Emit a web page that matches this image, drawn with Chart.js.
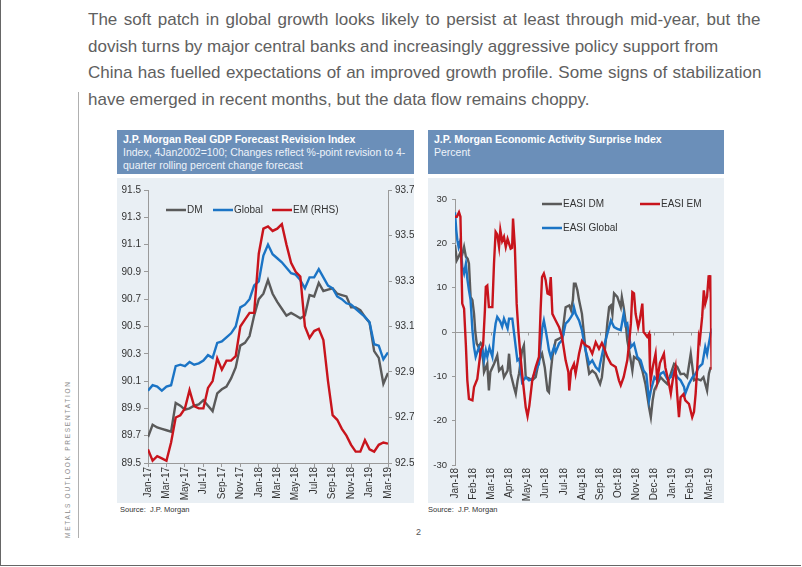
<!DOCTYPE html>
<html>
<head>
<meta charset="utf-8">
<script src="https://cdn.jsdelivr.net/npm/chart.js@4.4.1/dist/chart.umd.min.js"></script>
<style>
  html, body { margin:0; padding:0; background:#fff; }
  body { width:802px; height:567px; position:relative; overflow:hidden; font-family:"Liberation Sans", Arial, sans-serif; }
  .frame { position:absolute; left:0; top:0; width:801px; height:566px; border-left:1px solid #666; border-bottom:1px solid #666; box-sizing:border-box; }
  .intro { position:absolute; left:88px; color:#606060; font-size:17px; white-space:nowrap; line-height:20px; }
  .vline { position:absolute; left:78px; top:92px; width:1px; height:446px; background:#b0b0b0; }
  .vtext { position:absolute; left:68px; top:538px; transform-origin:0 0; transform:rotate(-90deg); font-size:6.5px; letter-spacing:1.75px; color:#8a8a8a; white-space:nowrap; line-height:7px; margin-left:-4px; }
  .hdr { position:absolute; top:130px; height:44px; background:#6b8fb9; color:#fff; box-sizing:border-box; padding:3px 0 0 6px; }
  .hdr .t { font-weight:bold; font-size:10.5px; line-height:13px; white-space:nowrap; }
  .hdr .s { font-size:10.5px; line-height:12.5px; color:#eef3f9; white-space:nowrap; }
  .bg { position:absolute; top:178px; height:325px; background:#e9eff4; }
  canvas { position:absolute; top:178px; }
  .src { position:absolute; top:505px; font-size:7.5px; color:#333; white-space:pre; }
  .pg { position:absolute; left:416px; top:527px; font-size:9px; color:#555; }
</style>
</head>
<body>
<div class="frame"></div>
<div class="intro" style="top:10px;word-spacing:1.8px">The soft patch in global growth looks likely to persist at least through mid-year, but the</div>
<div class="intro" style="top:37px">dovish turns by major central banks and increasingly aggressive policy support from</div>
<div class="intro" style="top:63px;word-spacing:0.6px">China has fuelled expectations of an improved growth profile. Some signs of stabilization</div>
<div class="intro" style="top:90px">have emerged in recent months, but the data flow remains choppy.</div>
<div class="vline"></div>
<div class="vtext">METALS OUTLOOK PRESENTATION</div>

<div class="hdr" style="left:117px;width:297px">
  <div class="t">J.P. Morgan Real GDP Forecast Revision Index</div>
  <div class="s">Index, 4Jan2002=100; Changes reflect %-point revision to 4-</div>
  <div class="s">quarter rolling percent change forecast</div>
</div>
<div class="hdr" style="left:428px;width:296px">
  <div class="t">J.P. Morgan Economic Activity Surprise Index</div>
  <div class="s">Percent</div>
</div>
<div class="bg" style="left:117px;width:297px"></div>
<div class="bg" style="left:428px;width:296px"></div>
<canvas id="c1" width="297" height="325" style="left:117px"></canvas>
<canvas id="c2" width="296" height="325" style="left:428px"></canvas>
<div class="src" style="left:120px">Source:  J.P. Morgan</div>
<div class="src" style="left:428px">Source:  J.P. Morgan</div>
<div class="pg">2</div>

<script>
// ---------- Left chart: Real GDP Forecast Revision Index (x = months since Jan-17) ----------
const gdpMonths = [0,0.5,1,1.5,2,2.5,3,3.5,4,4.5,5,5.5,6,6.5,7,7.5,8,8.5,9,9.5,10,10.5,11,11.5,12,12.5,13,13.5,14,14.5,15,15.5,16,16.5,17,17.5,18,18.5,19,19.5,20,20.5,21,21.5,22,22.5,23,23.5,24,24.5,25,25.5,26];
const gdpDM = [89.69,89.78,89.76,89.75,89.74,89.73,89.94,89.92,89.89,89.90,89.92,89.93,89.96,89.92,89.88,90.01,90.04,90.06,90.12,90.20,90.36,90.38,90.43,90.58,90.70,90.74,90.84,90.74,90.68,90.63,90.58,90.60,90.58,90.56,90.58,90.73,90.72,90.82,90.76,90.77,90.78,90.74,90.73,90.72,90.64,90.64,90.62,90.57,90.53,90.32,90.27,90.08,90.16];
const gdpGlobal = [90.03,90.07,90.06,90.03,90.06,90.07,90.21,90.22,90.21,90.24,90.22,90.23,90.25,90.29,90.27,90.38,90.39,90.42,90.45,90.50,90.64,90.66,90.70,90.80,90.83,91.02,91.10,91.03,91.00,90.97,90.93,90.89,90.88,90.84,90.78,90.86,90.86,90.92,90.86,90.80,90.78,90.72,90.70,90.67,90.66,90.63,90.60,90.57,90.53,90.37,90.36,90.26,90.31];
const gdpEM = [92.56,92.51,92.53,92.52,92.51,92.59,92.70,92.71,92.74,92.82,92.75,92.74,92.74,92.83,92.86,92.96,92.91,92.95,92.95,92.97,93.10,93.13,93.16,93.16,93.42,93.53,93.54,93.52,93.53,93.55,93.46,93.38,93.34,93.32,93.10,93.05,93.08,93.09,93.04,92.86,92.71,92.69,92.65,92.62,92.58,92.55,92.55,92.60,92.56,92.55,92.58,92.59,92.585];
const gdpTickLabels = ['Jan-17','Mar-17','May-17','Jul-17','Sep-17','Nov-17','Jan-18','Mar-18','May-18','Jul-18','Sep-18','Nov-18','Jan-19','Mar-19'];

// ---------- Right chart: Economic Activity Surprise Index (x = months since Jan-18) ----------
const easiDMx = [0,0.1,0.2,0.3,0.4,0.5,0.6,0.7,0.77,0.86,0.96,1.05,1.12,1.2,1.3,1.42,1.5,1.6,1.7,1.78,1.87,1.95,2.15,2.33,2.43,2.6,2.7,2.9,2.98,3.07,3.25,3.35,3.45,3.53,3.7,3.8,3.9,4.1,4.26,4.45,4.63,4.8,4.95,5.1,5.18,5.28,5.37,5.55,5.74,5.9,6.1,6.3,6.4,6.5,6.56,6.65,6.75,6.84,7.0,7.1,7.2,7.4,7.57,7.76,8.0,8.1,8.2,8.3,8.4,8.5,8.6,8.68,8.77,8.95,9.14,9.2,9.3,9.4,9.5,9.6,9.78,9.87,10.15,10.33,10.5,10.7,10.8,10.9,11.0,11.16,11.34,11.5,11.7,11.85,12.08,12.26,12.44,12.63,12.8,13.0,13.18,13.36,13.55,13.7,13.9,14.0,14.1];
const easiDM = [19.6,16.2,17,18,17.5,19.2,17,16.5,15.4,7.9,7.2,4.1,0,-2.6,-3.4,-2.5,-3,-9,-8,-7.2,-13.2,-9,-7.2,-5.3,-8.7,-7.9,-10.2,-8.7,-4.9,-9.4,-12.4,-13.9,-11,-9.4,-4.1,-3,-10.2,-10.5,-10.9,-10.2,-6.4,-4.9,-8,-13.2,-13.6,-9,-5.6,-1.9,-1.5,-1.1,5.6,6,4.9,7.2,10.9,10.9,9.4,7.2,4.1,0,-4.1,-9.4,-8.7,-9.4,-11.7,-10.2,-6.4,-2.6,2,5.6,6,4,8.7,7.9,5.6,7.9,5.6,2.6,-1.9,-4.1,-8.7,-5.6,-6.4,-8.7,-11.7,-17,-19.2,-15.4,-13,-11.7,-10.2,-10.9,-11.7,-10,-7.2,-7.9,-9.5,-9.4,-10.2,-4.9,-10.9,-10.6,-10.9,-10.2,-13.2,-9.4,-7.9];
const easiEMx = [0,0.1,0.22,0.3,0.4,0.5,0.6,0.68,0.77,0.96,1.05,1.23,1.42,1.55,1.65,1.7,1.78,1.87,2.06,2.15,2.24,2.33,2.43,2.5,2.6,2.7,2.8,2.9,3.07,3.15,3.2,3.3,3.4,3.5,3.6,3.7,3.9,4.0,4.1,4.26,4.45,4.63,4.72,4.8,4.9,5.0,5.1,5.2,5.28,5.37,5.55,5.74,5.9,6.1,6.25,6.3,6.4,6.56,6.65,6.84,7.0,7.2,7.4,7.57,7.76,7.94,8.1,8.2,8.4,8.6,8.86,9.04,9.14,9.3,9.5,9.6,9.7,9.78,9.87,9.96,10.1,10.2,10.33,10.4,10.5,10.6,10.7,10.75,10.79,10.9,11.06,11.15,11.3,11.52,11.6,11.8,11.9,12.0,12.16,12.25,12.35,12.44,12.6,12.7,12.9,13.08,13.18,13.27,13.36,13.45,13.5,13.63,13.72,13.8,13.9,13.99,14.04,14.09,14.15];
const easiEM = [26,26,27,26,6.4,5.3,-3,-10.9,-15.1,-15.4,-12.4,-10.6,-4.1,-3,5,10.2,10.5,5.6,5.6,15.4,22.6,22,19.2,23,20.5,21.5,19.2,21,18.8,19,25.6,19.2,6.4,0,-5,-9.4,-17,-19,-16.6,-10.9,-7.9,-5.6,4.9,12.4,13.2,11.7,8.7,8.5,12.4,4.1,2.6,1.1,-1.1,-6.4,-9,-13.2,-8.7,-7.2,-9.4,-4.9,-2,-3,-3.4,-4.9,-2.3,-3.8,-2.5,-3.4,-5.6,-7.2,-7.9,-10.9,-12,-10.2,-6.4,-2.6,2,9.0,8.7,4.1,1.1,3,6.4,0,-0.5,-1.1,-0.4,-8,-10.9,-8,-4.9,-10.9,-7,-4.9,-8,-11.7,-13.9,-11,-7.9,-13.9,-19.2,-14.7,-14,-15.4,-16.2,-19.2,-18,-13.9,-7.9,-1.1,-1.9,3.4,9.4,6.4,8,12.8,11,12.8,-8.5];
const easiGlobalx = [0,0.07,0.13,0.2,0.3,0.4,0.5,0.6,0.68,0.77,0.86,0.96,1.05,1.14,1.23,1.32,1.42,1.5,1.6,1.7,1.78,1.9,2.06,2.15,2.24,2.33,2.43,2.5,2.6,2.7,2.9,2.98,3.16,3.25,3.35,3.44,3.55,3.7,3.9,4.08,4.26,4.45,4.63,4.72,4.82,4.9,5.0,5.1,5.18,5.28,5.46,5.55,5.74,5.9,6.0,6.1,6.25,6.4,6.5,6.56,6.65,6.84,7.0,7.1,7.2,7.4,7.57,7.76,7.94,8.0,8.2,8.3,8.5,8.6,8.77,8.95,9.14,9.3,9.4,9.5,9.6,9.7,9.87,10.05,10.24,10.4,10.55,10.7,10.8,11.0,11.16,11.34,11.5,11.7,11.9,12.08,12.26,12.44,12.63,12.7,12.9,13.1,13.27,13.45,13.64,13.8,13.9,14.0,14.15];
const easiGlobal = [27,23,20.7,19.2,20.7,14.7,13.2,15.4,12,9.4,7.2,0.4,-3.4,-5.6,-4.5,-3.5,-5.3,-3.8,-6.4,-4.1,-5.6,-3.5,-5.6,-1,1.9,3.4,2.8,2.3,1.2,3,0.8,3,3,0,-3.4,-6.4,-6,-11.3,-10.2,-10.9,-10.6,-8.7,-7.2,-3,1.1,2.6,0.4,-2,-4.1,-5.6,-3.4,-4.5,-2.6,-1.9,0,1.9,2.5,3.4,4.1,5.6,4.1,2.6,0.4,-2,-4.1,-7.2,-6.4,-7.9,-8.7,-7.2,-3.4,-1.9,1.1,2.6,1.1,0.7,0.4,4.1,1.5,1.9,-1,-3.4,-2.6,-5.6,-6.4,-8.7,-9.5,-15.4,-13.2,-10.2,-10.9,-9.4,-9,-10.6,-10.2,-8.7,-10.2,-10.9,-12.4,-13.9,-11.7,-10.2,-9.4,-7.9,-7.2,-3.4,-5,-2.6,0.8];
const easiTickLabels = ['Jan-18','Feb-18','Mar-18','Apr-18','May-18','Jun-18','Jul-18','Aug-18','Sep-18','Oct-18','Nov-18','Dec-18','Jan-19','Feb-19','Mar-19'];

const C_DM = '#5a5a5a', C_GLOBAL = '#1b74c5', C_EM = '#c8141c';
const FONT = '"Liberation Sans", Arial, sans-serif';
const AXIS = '#9a9a9a';
const pts = (xs, ys) => xs.map((x, i) => ({x, y: ys[i]}));

// legend plugin: draws dataset legend entries at given canvas positions
const legendPlugin = {
  id: 'posLegend',
  afterDraw(chart, args, opts) {
    const ctx = chart.ctx;
    ctx.save();
    ctx.font = '10px ' + FONT;
    ctx.textBaseline = 'middle';
    opts.items.forEach(it => {
      const ds = chart.data.datasets[it.i];
      ctx.strokeStyle = ds.borderColor;
      ctx.lineWidth = 2.5;
      ctx.beginPath(); ctx.moveTo(it.x, it.y); ctx.lineTo(it.x + 20, it.y); ctx.stroke();
      ctx.fillStyle = '#333';
      ctx.fillText(ds.label, it.x + 21, it.y + 0.5);
    });
    ctx.restore();
  }
};

// zero-line tick marks for the surprise chart
const zeroTicks = {
  id: 'zeroTicks',
  beforeDatasetsDraw(chart) {
    const x = chart.scales.x, y = chart.scales.y, ctx = chart.ctx;
    const y0 = Math.round(y.getPixelForValue(0)) + 0.5;
    ctx.save();
    ctx.strokeStyle = AXIS; ctx.lineWidth = 1;
    x.ticks.forEach(t => {
      const px = Math.round(x.getPixelForValue(t.value)) + 0.5;
      ctx.beginPath(); ctx.moveTo(px, y0); ctx.lineTo(px, y0 + 3); ctx.stroke();
    });
    ctx.restore();
  }
};

new Chart(document.getElementById('c1'), {
  type: 'line',
  data: {
    datasets: [
      { label: 'DM', data: pts(gdpMonths, gdpDM), yAxisID: 'y', borderColor: C_DM, order: 2 },
      { label: 'Global', data: pts(gdpMonths, gdpGlobal), yAxisID: 'y', borderColor: C_GLOBAL, order: 1 },
      { label: 'EM (RHS)', data: pts(gdpMonths, gdpEM), yAxisID: 'y2', borderColor: C_EM, order: 0 }
    ]
  },
  options: {
    responsive: false, animation: false, devicePixelRatio: 1,
    layout: { padding: { top: 12, left: 0, right: 0, bottom: 0 } },
    elements: { point: { radius: 0 }, line: { borderWidth: 2.4, tension: 0 } },
    plugins: { legend: { display: false }, tooltip: { enabled: false },
      posLegend: { items: [ {i:0, x:49, y:32}, {i:1, x:96, y:32}, {i:2, x:155, y:32} ] } },
    scales: {
      x: { type: 'linear', min: 0, max: 26,
        afterFit: s => { s.height = 40; },
        ticks: { stepSize: 2, autoSkip: false, minRotation: 90, maxRotation: 90, padding: 0,
          color: '#333', font: { family: FONT, size: 10 },
          callback: v => gdpTickLabels[v / 2] },
        grid: { drawOnChartArea: false, drawTicks: true, tickLength: 4, color: AXIS },
        border: { display: true, color: AXIS } },
      y: { position: 'left', min: 89.5, max: 91.5,
        afterFit: s => { s.width = 31; },
        ticks: { stepSize: 0.2, padding: 3, color: '#333', font: { family: FONT, size: 10 },
          callback: v => v.toFixed(1) },
        grid: { drawOnChartArea: false, tickLength: 4, color: AXIS },
        border: { display: true, color: AXIS } },
      y2: { position: 'right', min: 92.5, max: 93.7,
        afterFit: s => { s.width = 26; },
        ticks: { stepSize: 0.2, padding: 3, color: '#333', font: { family: FONT, size: 10 },
          callback: v => v.toFixed(1) },
        grid: { drawOnChartArea: false, tickLength: 4, color: AXIS },
        border: { display: true, color: AXIS } }
    }
  },
  plugins: [legendPlugin]
});

new Chart(document.getElementById('c2'), {
  type: 'line',
  data: {
    datasets: [
      { label: 'EASI DM', data: pts(easiDMx, easiDM), borderColor: C_DM, order: 2 },
      { label: 'EASI EM', data: pts(easiEMx, easiEM), borderColor: C_EM, order: 0 },
      { label: 'EASI Global', data: pts(easiGlobalx, easiGlobal), borderColor: C_GLOBAL, order: 1 }
    ]
  },
  options: {
    responsive: false, animation: false, devicePixelRatio: 1,
    layout: { padding: { top: 21, left: 0, right: 11, bottom: 0 } },
    elements: { point: { radius: 0 }, line: { borderWidth: 2.4, tension: 0 } },
    plugins: { legend: { display: false }, tooltip: { enabled: false },
      posLegend: { items: [ {i:0, x:114, y:26}, {i:1, x:212, y:26}, {i:2, x:114, y:50} ] } },
    scales: {
      x: { type: 'linear', min: 0, max: 14.15,
        afterFit: s => { s.height = 38; },
        afterBuildTicks: s => { s.ticks = easiTickLabels.map((_, i) => ({ value: i })); },
        ticks: { stepSize: 1, autoSkip: false, minRotation: 90, maxRotation: 90, padding: 3,
          color: '#333', font: { family: FONT, size: 10 },
          callback: v => easiTickLabels[v] },
        grid: { display: false, drawTicks: false, tickLength: 0 },
        border: { display: false } },
      y: { min: -30, max: 30,
        afterFit: s => { s.width = 27; },
        ticks: { stepSize: 10, padding: 5, color: '#333', font: { family: FONT, size: 9.5 } },
        grid: { drawOnChartArea: true, tickLength: 3,
          color: c => c.tick && c.tick.value === 0 ? AXIS : 'rgba(0,0,0,0)',
          tickColor: AXIS },
        border: { display: true, color: AXIS } }
    }
  },
  plugins: [legendPlugin, zeroTicks]
});
</script>
</body>
</html>
